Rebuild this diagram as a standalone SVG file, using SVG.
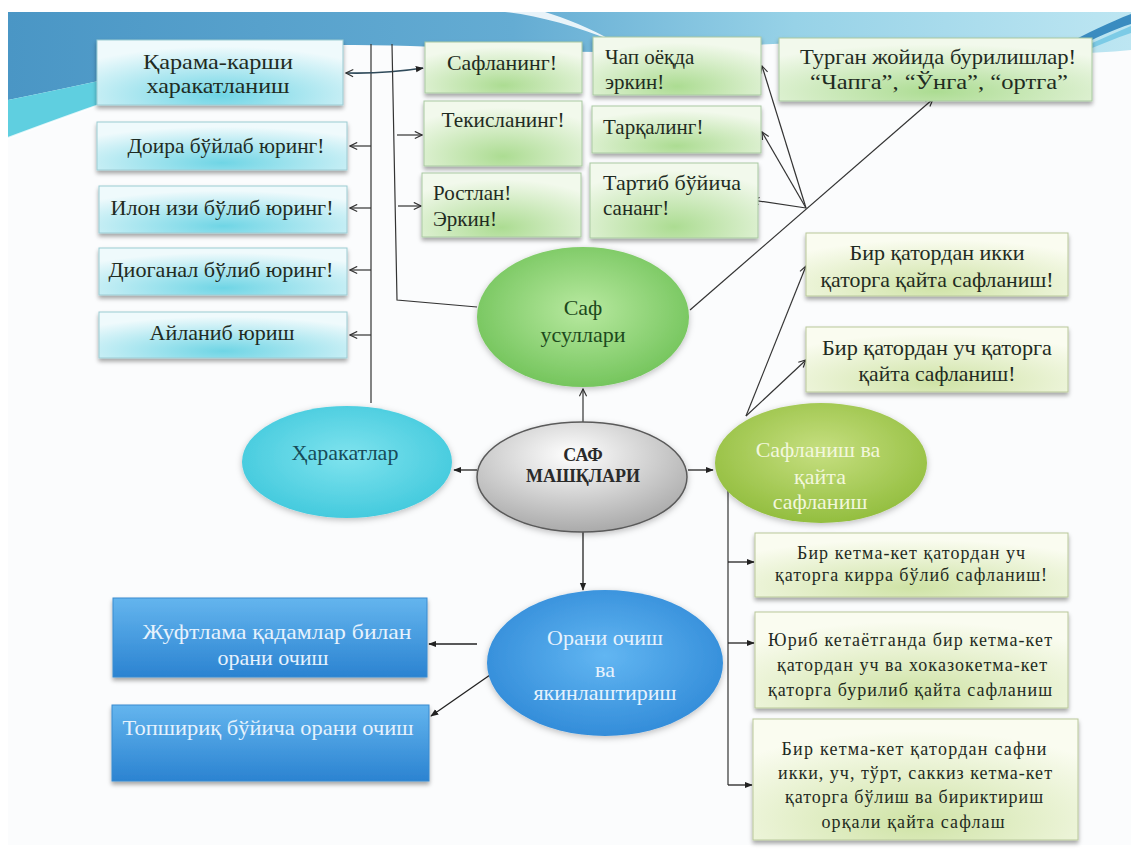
<svg xmlns="http://www.w3.org/2000/svg" width="1131" height="855" viewBox="0 0 1131 855">
<style>
  text { font-family: "Liberation Serif", "Times New Roman", "DejaVu Serif", serif; }
  .t { font-size: 21px; fill: #1f2b22; text-anchor: middle; }
  .tl { font-size: 21px; fill: #1f2b22; }
  .ts { font-size: 18px; fill: #1f2b22; text-anchor: middle; }
  .tw { font-size: 22px; fill: #e6f2fd; text-anchor: middle; }
  .cy { fill: url(#gCyan); stroke: #9ccbd2; stroke-width: 1; filter: url(#sh); }
  .gr { fill: url(#gGreen); stroke: #a9c9a2; stroke-width: 1; filter: url(#sh); }
  .yg { fill: url(#gYG); stroke: #b9c89a; stroke-width: 1; filter: url(#sh); }
  .bl { fill: url(#gBlueBox); stroke: #3b8bd0; stroke-width: 1; filter: url(#sh); }
  .ln { stroke: #333; stroke-width: 1.2; fill: none; }
  .lo { stroke: #333; stroke-width: 1.2; fill: none; marker-end: url(#mOpen); }
  .lf { stroke: #222; stroke-width: 1.3; fill: none; marker-end: url(#mFill); }
</style>
<defs>
  <filter id="sh" x="-5%" y="-10%" width="110%" height="135%">
    <feDropShadow dx="0" dy="3" stdDeviation="2" flood-color="#000" flood-opacity="0.35"/>
  </filter>
  <filter id="esh" x="-10%" y="-10%" width="120%" height="130%">
    <feDropShadow dx="0" dy="2" stdDeviation="3" flood-color="#000" flood-opacity="0.25"/>
  </filter>
  <linearGradient id="gBan" x1="0" y1="0" x2="1" y2="0">
    <stop offset="0" stop-color="#4a96c5"/>
    <stop offset="0.45" stop-color="#64acd3"/>
    <stop offset="0.7" stop-color="#97d2e7"/>
    <stop offset="1" stop-color="#bde6f2"/>
  </linearGradient>
  <radialGradient id="gCyan" cx="0.5" cy="0.85" r="0.75">
    <stop offset="0" stop-color="#6fd5e5"/>
    <stop offset="1" stop-color="#effafc"/>
  </radialGradient>
  <radialGradient id="gGreen" cx="0.5" cy="0.85" r="0.75">
    <stop offset="0" stop-color="#acdc92"/>
    <stop offset="1" stop-color="#f2f9ec"/>
  </radialGradient>
  <radialGradient id="gYG" cx="0.5" cy="0.85" r="0.75">
    <stop offset="0" stop-color="#cfe3a6"/>
    <stop offset="1" stop-color="#fafcf0"/>
  </radialGradient>
  <linearGradient id="gBlueBox" x1="0" y1="0" x2="0" y2="1">
    <stop offset="0" stop-color="#64b5ee"/>
    <stop offset="1" stop-color="#2b83d1"/>
  </linearGradient>
  <radialGradient id="gEGreen" cx="0.5" cy="0.45" r="0.6">
    <stop offset="0" stop-color="#b8e9a0"/>
    <stop offset="1" stop-color="#6fc257"/>
  </radialGradient>
  <radialGradient id="gEGray" cx="0.45" cy="0.3" r="0.75">
    <stop offset="0" stop-color="#ffffff"/>
    <stop offset="1" stop-color="#a4a4a4"/>
  </radialGradient>
  <radialGradient id="gECyan" cx="0.5" cy="0.45" r="0.6">
    <stop offset="0" stop-color="#7fe3ee"/>
    <stop offset="1" stop-color="#3fc8dc"/>
  </radialGradient>
  <radialGradient id="gEOlive" cx="0.5" cy="0.4" r="0.6">
    <stop offset="0" stop-color="#c6df80"/>
    <stop offset="1" stop-color="#93be3f"/>
  </radialGradient>
  <radialGradient id="gEBlue" cx="0.5" cy="0.45" r="0.6">
    <stop offset="0" stop-color="#62b6f2"/>
    <stop offset="1" stop-color="#2f89d7"/>
  </radialGradient>
  <marker id="mOpen" viewBox="0 0 10 10" refX="9" refY="5" markerWidth="9" markerHeight="9" markerUnits="userSpaceOnUse" orient="auto-start-reverse">
    <path d="M1,1 L9,5 L1,9" fill="none" stroke="#333" stroke-width="1.3"/>
  </marker>
  <marker id="mFill" viewBox="0 0 10 10" refX="9" refY="5" markerWidth="8" markerHeight="8" markerUnits="userSpaceOnUse" orient="auto-start-reverse">
    <path d="M0,1 L10,5 L0,9 Z" fill="#222"/>
  </marker>
</defs>

<!-- background -->
<rect x="0" y="0" width="1131" height="855" fill="#ffffff"/>
<rect x="8" y="12" width="1123" height="833" fill="#fbfcfd"/>
<g id="banner">
  <path d="M8,12 H1131 V50 C1060,58 960,50 880,44 C780,38 700,52 600,52 C500,52 420,44 340,45 C220,50 110,80 8,100 Z" fill="url(#gBan)"/>
  <path d="M8,100 C110,80 220,50 340,45 L340,50 C220,58 110,100 8,138 Z" fill="#5fcfe0"/>
  <path d="M8,138 C110,100 220,58 340,50" fill="none" stroke="#ffffff" stroke-width="2" opacity="0.8"/>
  <path d="M505,12 C540,16 575,26 615,42 C590,28 565,18 545,12 Z" fill="#ffffff" opacity="0.85"/>
  <path d="M1131,14 C1110,22 1090,32 1062,46 L1074,49 C1095,38 1115,29 1131,24 Z" fill="#3a8cc0"/>
  <path d="M1131,26 C1112,34 1095,42 1076,50 L1082,52 C1100,45 1116,38 1131,33 Z" fill="#7ccbe6"/>
</g>

<!-- connectors -->
<g id="connectors">
  <line class="ln" x1="371" y1="44" x2="371" y2="403"/>
  <line class="lo" x1="371" y1="146" x2="350" y2="146"/>
  <line class="lo" x1="371" y1="208" x2="350" y2="208"/>
  <line class="lo" x1="371" y1="270" x2="350" y2="270"/>
  <line class="lo" x1="371" y1="335" x2="350" y2="335"/>
  <path d="M346,73 Q385,74 423,68" stroke="#2f4a5a" stroke-width="1.6" fill="none" marker-start="url(#mOpen)" marker-end="url(#mFill)"/>
  <polyline class="ln" points="392,44 397,300 477,307"/>
  <line class="lo" x1="397" y1="135" x2="422" y2="135"/>
  <line class="lo" x1="398" y1="206" x2="421" y2="206"/>
  <line class="lo" x1="690" y1="310" x2="933" y2="99"/>
  <line class="lo" x1="806" y1="208" x2="762" y2="66"/>
  <line class="lo" x1="806" y1="208" x2="762" y2="132"/>
  <line class="lo" x1="806" y1="208" x2="752" y2="200"/>
  <line class="lo" x1="583" y1="422" x2="583" y2="389"/>
  <line class="lf" x1="477" y1="470" x2="454" y2="470"/>
  <line class="lf" x1="688" y1="470" x2="713" y2="470"/>
  <line class="lf" x1="583" y1="532" x2="583" y2="590"/>
  <line class="lo" x1="746" y1="416" x2="806" y2="266"/>
  <line class="lo" x1="746" y1="416" x2="806" y2="360"/>
  <line class="ln" x1="728" y1="486" x2="728" y2="785"/>
  <line class="lf" x1="728" y1="562" x2="754" y2="562"/>
  <line class="lf" x1="728" y1="643" x2="754" y2="643"/>
  <line class="lf" x1="728" y1="785" x2="752" y2="785"/>
  <line class="lf" x1="477" y1="644" x2="429" y2="644"/>
  <line class="lf" x1="490" y1="675" x2="431" y2="716"/>
</g>

<!-- left cyan boxes -->
<g id="n-karama"><rect class="cy" x="97" y="40" width="246" height="65"/>
  <text class="t" x="218" y="69" textLength="150" lengthAdjust="spacingAndGlyphs">Қарама-карши</text><text class="t" x="218" y="93" textLength="143" lengthAdjust="spacingAndGlyphs">харакатланиш</text></g>
<g id="n-doira"><rect class="cy" x="97" y="122" width="250" height="48"/>
  <text class="t" x="226" y="153" textLength="197" lengthAdjust="spacingAndGlyphs">Доира бўйлаб юринг!</text></g>
<g id="n-ilon"><rect class="cy" x="99" y="186" width="248" height="47"/>
  <text class="t" x="222" y="215" textLength="223" lengthAdjust="spacingAndGlyphs">Илон изи бўлиб юринг!</text></g>
<g id="n-diog"><rect class="cy" x="99" y="248" width="248" height="47"/>
  <text class="t" x="221" y="277" textLength="225" lengthAdjust="spacingAndGlyphs">Диоганал бўлиб юринг!</text></g>
<g id="n-aylan"><rect class="cy" x="99" y="312" width="248" height="46"/>
  <text class="t" x="222" y="340" textLength="145" lengthAdjust="spacingAndGlyphs">Айланиб юриш</text></g>

<!-- middle green boxes -->
<g id="n-saflaning"><rect class="gr" x="425" y="42" width="157" height="51"/>
  <text class="t" x="502" y="70" textLength="110" lengthAdjust="spacingAndGlyphs">Сафланинг!</text></g>
<g id="n-tekis"><rect class="gr" x="424" y="101" width="158" height="65"/>
  <text class="t" x="503" y="127" textLength="123" lengthAdjust="spacingAndGlyphs">Текисланинг!</text></g>
<g id="n-rostlan"><rect class="gr" x="422" y="173" width="159" height="64"/>
  <text class="tl" x="433" y="200">Ростлан!</text><text class="tl" x="433" y="226">Эркин!</text></g>
<g id="n-chap"><rect class="gr" x="593" y="37" width="168" height="58"/>
  <text class="tl" x="605" y="64">Чап оёқда</text><text class="tl" x="605" y="89">эркин!</text></g>
<g id="n-tarqal"><rect class="gr" x="592" y="106" width="169" height="47"/>
  <text class="tl" x="603" y="134">Тарқалинг!</text></g>
<g id="n-tartib"><rect class="gr" x="590" y="163" width="168" height="75"/>
  <text class="tl" x="603" y="190" textLength="138" lengthAdjust="spacingAndGlyphs">Тартиб бўйича</text><text class="tl" x="603" y="215">сананг!</text></g>
<g id="n-turgan"><rect class="gr" x="779" y="38" width="313" height="63"/>
  <text class="t" x="938" y="64" font-size="22" textLength="276" lengthAdjust="spacingAndGlyphs">Турган жойида бурилишлар!</text>
  <text class="t" x="939" y="89" font-size="22" textLength="258" lengthAdjust="spacingAndGlyphs">“Чапга”, “Ўнга”, “ортга”</text></g>

<!-- right upper boxes -->
<g id="n-ikki"><rect class="yg" x="806" y="233" width="262" height="63"/>
  <text class="t" x="937" y="260" textLength="175" lengthAdjust="spacingAndGlyphs">Бир қатордан икки</text>
  <text class="t" x="937" y="287" textLength="233" lengthAdjust="spacingAndGlyphs">қаторга қайта сафланиш!</text></g>
<g id="n-uch"><rect class="yg" x="806" y="327" width="262" height="65"/>
  <text class="t" x="937" y="355" textLength="230" lengthAdjust="spacingAndGlyphs">Бир қатордан уч қаторга</text>
  <text class="t" x="937" y="381" textLength="157" lengthAdjust="spacingAndGlyphs">қайта сафланиш!</text></g>

<!-- ellipses -->
<g id="n-usul"><ellipse cx="583" cy="317" rx="106" ry="70" fill="url(#gEGreen)" filter="url(#esh)"/>
  <text x="583" y="315" font-size="22" fill="#1d4a1c" text-anchor="middle">Саф</text>
  <text x="583" y="342" font-size="22" fill="#1d4a1c" text-anchor="middle">усуллари</text></g>
<g id="n-center"><ellipse cx="582" cy="477" rx="105" ry="55" fill="url(#gEGray)" stroke="#5a5a5a" stroke-width="1.5" filter="url(#esh)"/>
  <text x="583" y="461" font-size="18" font-weight="bold" fill="#2a2a2a" text-anchor="middle">САФ</text>
  <text x="583" y="482" font-size="18" font-weight="bold" fill="#2a2a2a" text-anchor="middle">МАШҚЛАРИ</text></g>
<g id="n-harakat"><ellipse cx="347" cy="462" rx="105" ry="56" fill="url(#gECyan)" filter="url(#esh)"/>
  <text x="345" y="460" font-size="22" fill="#174b58" text-anchor="middle">Ҳаракатлар</text></g>
<g id="n-saflanish"><ellipse cx="821" cy="463" rx="106" ry="60" fill="url(#gEOlive)" filter="url(#esh)"/>
  <text x="818" y="457" font-size="22" fill="#f2f7dc" text-anchor="middle">Сафланиш ва</text>
  <text x="820" y="484" font-size="22" fill="#f2f7dc" text-anchor="middle">қайта</text>
  <text x="820" y="509" font-size="22" fill="#f2f7dc" text-anchor="middle">сафланиш</text></g>
<g id="n-orani"><ellipse cx="605" cy="663" rx="118" ry="73" fill="url(#gEBlue)" filter="url(#esh)"/>
  <text class="tw" x="605" y="645">Орани очиш</text>
  <text class="tw" x="605" y="677">ва</text>
  <text class="tw" x="605" y="700">якинлаштириш</text></g>

<!-- blue boxes -->
<g id="n-juft"><rect class="bl" x="113" y="598" width="314" height="79"/>
  <text class="tw" x="277" y="639" textLength="269" lengthAdjust="spacingAndGlyphs">Жуфтлама қадамлар билан</text>
  <text class="tw" x="273" y="665">орани очиш</text></g>
<g id="n-topsh"><rect class="bl" x="112" y="705" width="317" height="76"/>
  <text class="tw" x="268" y="735" textLength="291" lengthAdjust="spacingAndGlyphs">Топшириқ бўйича орани очиш</text></g>

<!-- right lower boxes -->
<g id="n-kirra"><rect class="yg" x="755" y="533" width="313" height="64"/>
  <text class="ts" x="911" y="559" textLength="228" lengthAdjust="spacing">Бир кетма-кет қатордан уч</text>
  <text class="ts" x="911" y="581" textLength="272" lengthAdjust="spacing">қаторга кирра бўлиб сафланиш!</text></g>
<g id="n-yurib"><rect class="yg" x="755" y="612" width="313" height="96"/>
  <text class="ts" x="910" y="646" textLength="284" lengthAdjust="spacing">Юриб кетаётганда бир кетма-кет</text>
  <text class="ts" x="912" y="671" textLength="270" lengthAdjust="spacing">қатордан уч ва хоказокетма-кет</text>
  <text class="ts" x="910" y="696" textLength="284" lengthAdjust="spacing">қаторга бурилиб қайта сафланиш</text></g>
<g id="n-bolish"><rect class="yg" x="753" y="719" width="325" height="121"/>
  <text class="ts" x="914" y="755" textLength="265" lengthAdjust="spacing">Бир кетма-кет қатордан сафни</text>
  <text class="ts" x="915" y="779" textLength="274" lengthAdjust="spacing">икки, уч, тўрт, саккиз кетма-кет</text>
  <text class="ts" x="914" y="803" textLength="258" lengthAdjust="spacing">қаторга бўлиш ва бириктириш</text>
  <text class="ts" x="913" y="828" textLength="183" lengthAdjust="spacing">орқали қайта сафлаш</text></g>
</svg>
